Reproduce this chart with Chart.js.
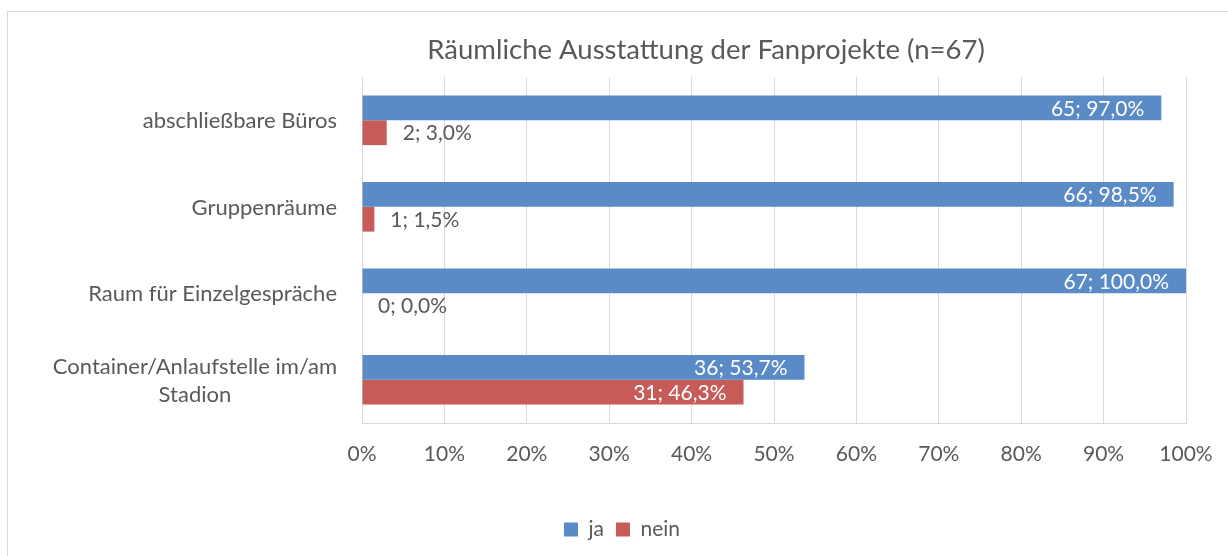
<!DOCTYPE html>
<html><head><meta charset="utf-8">
<script src="https://cdn.jsdelivr.net/npm/chart.js@4"></script>
<style>
html,body{margin:0;padding:0;background:#fff;}
#wrap{position:relative;width:1228px;height:556px;overflow:hidden;}
#frame{position:absolute;left:7px;top:11px;width:1240px;height:560px;border-left:1px solid #d9d9d9;border-top:1px solid #d9d9d9;pointer-events:none;}
canvas{position:absolute;left:0;top:0;}
</style></head>
<body><div id="wrap"><canvas id="c" width="1228" height="556"></canvas><div id="frame"></div></div>
<script>
const categories = [["abschließbare Büros"], ["Gruppenräume"], ["Raum für Einzelgespräche"], ["Container/Anlaufstelle im/am", "Stadion"]];
const jaPercent = [97.0, 98.5, 100.0, 53.7];
const neinPercent = [3.0, 1.5, 0.0, 46.3];
const jaCount = [65, 66, 67, 36];
const neinCount = [2, 1, 0, 31];
const tickValues = [0, 10, 20, 30, 40, 50, 60, 70, 80, 90, 100];
const titleText = "Räumliche Ausstattung der Fanprojekte (n=67)";

const FONT = "Lato";
const GREY = "#595959";
const BLUE = "rgb(91,139,198)";
const RED = "rgb(198,91,88)";

function fmt(n){ return n.toFixed(1).replace('.', ','); }

const labelPlugin = {
  id: 'labels',
  afterLayout(chart){
    const lg = chart.legend;
    if (lg){ lg.left += 29; lg.right += 29; }
  },
  afterDatasetsDraw(chart){
    const ctx = chart.ctx;
    ctx.save();
    ctx.font = "21px " + FONT;
    ctx.textBaseline = 'middle';
    chart.data.datasets.forEach((ds, di) => {
      const meta = chart.getDatasetMeta(di);
      meta.data.forEach((bar, i) => {
        const txt = ds.counts[i] + "; " + fmt(ds.data[i]) + "%";
        const w = ctx.measureText(txt).width;
        const inside = (bar.x - bar.base) > w + 30;
        if (inside){
          ctx.fillStyle = '#ffffff';
          ctx.textAlign = 'right';
          ctx.fillText(txt, bar.x - 17, bar.y + 1);
        } else {
          ctx.fillStyle = GREY;
          ctx.textAlign = 'left';
          ctx.fillText(txt, bar.x + 16, bar.y + 1);
        }
      });
    });
    // y category labels
    const ys = chart.scales.y;
    ctx.fillStyle = GREY;
    ctx.font = "22px " + FONT;
    const right = ys.right - 25;
    categories.forEach((lines, i) => {
      const cy = ys.getPixelForValue(i);
      const lh = 28;
      const widths = lines.map(l => ctx.measureText(l).width);
      const mw = Math.max(...widths);
      const y0 = cy - (lines.length - 1) * lh / 2;
      ctx.textAlign = 'center';
      lines.forEach((l, k) => ctx.fillText(l, right - mw / 2, y0 + k * lh + 1));
    });
    // title
    ctx.font = "27.5px " + FONT;
    ctx.textAlign = 'center';
    ctx.fillText(titleText, 706, 50);
    ctx.restore();
  }
};

new Chart(document.getElementById('c'), {
  type: 'bar',
  data: {
    labels: categories,
    datasets: [
      {label: 'ja', data: jaPercent, counts: jaCount, backgroundColor: BLUE, categoryPercentage: 0.575, barPercentage: 1.0},
      {label: 'nein', data: neinPercent, counts: neinCount, backgroundColor: RED, categoryPercentage: 0.575, barPercentage: 1.0}
    ]
  },
  options: {
    indexAxis: 'y',
    responsive: false,
    animation: false,
    layout: {padding: {top: 77, right: 42, left: 0, bottom: 6}},
    scales: {
      x: {
        min: 0, max: 100,
        afterBuildTicks(s){ s.ticks = tickValues.map(v => ({value: v})); },
        afterFit(s){ s.height = 84; s.paddingRight = 0; s.paddingLeft = 0; },
        ticks: {callback: v => v + '%', color: GREY, font: {family: FONT, size: 21}, padding: 19, maxRotation: 0},
        grid: {color: '#d9d9d9', drawTicks: false, lineWidth: 1},
        border: {color: '#d9d9d9'}
      },
      y: {
        afterFit(s){ s.width = 362; },
        ticks: {color: 'rgba(0,0,0,0)', font: {family: FONT, size: 18}},
        grid: {display: false, drawTicks: false},
        border: {color: '#d9d9d9'}
      }
    },
    plugins: {
      title: {display: false},
      tooltip: {enabled: false},
      legend: {
        position: 'bottom',
        labels: {boxWidth: 14, boxHeight: 14, color: GREY, font: {family: FONT, size: 21}, padding: 12}
      }
    }
  },
  plugins: [labelPlugin]
});
</script></body></html>
